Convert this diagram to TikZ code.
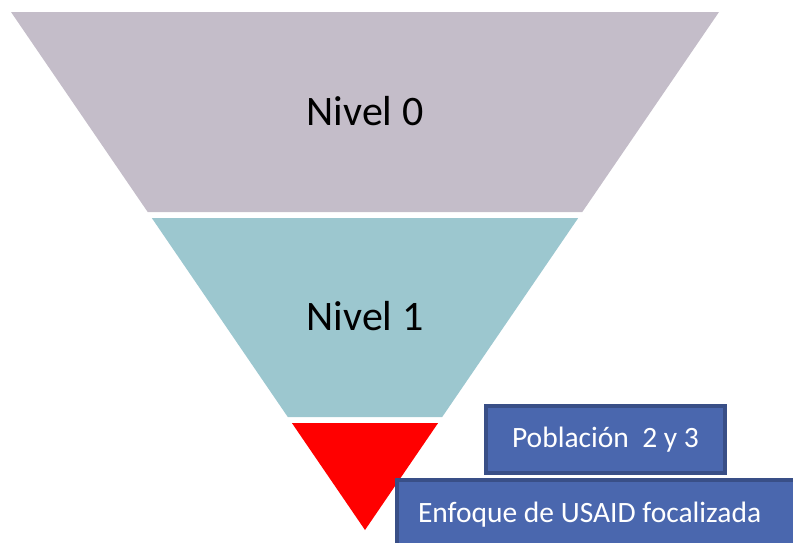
\documentclass[tikz,border=0pt]{standalone}
\usepackage{fontspec}
\setmainfont{Carlito}
\definecolor{nivelgris}{HTML}{C4BDC9}
\definecolor{nivelazul}{HTML}{9CC7CF}
\definecolor{cajaazul}{HTML}{4A67AE}
\definecolor{bordeazul}{HTML}{394F87}
\tikzset{
  bluebox/.style={fill=cajaazul, draw=bordeazul, line width=4pt, text=white,
    font=\fontsize{29.5}{35}\selectfont},
  nivel/.style={font=\fontsize{42}{50}\selectfont}
}
\begin{document}
\begin{tikzpicture}[x=1pt, y=-1pt]
            \useasboundingbox (0,0) rectangle (793,542);
            \clip (0,0) rectangle (793,542);

            \fill[nivelgris] (11,12) -- (719,12) -- (582.3,212) -- (147.7,212) -- cycle;
            \fill[nivelazul] (151.8,218) -- (578.2,218) -- (442.2,417) -- (287.8,417) -- cycle;
            \fill[red] (291.9,423) -- (438.1,423) -- (365,530) -- cycle;

            \node[nivel] (nivel0) at (365,111) {Nivel 0};
            \node[nivel] (nivel1) at (365,316) {Nivel 1};

            \node[bluebox, minimum width=239pt, minimum height=67pt] (poblacion) at (605.5,439.5) {Población~ 2 y 3};
            \node[bluebox, anchor=north west, text width=372pt, inner xsep=21pt, align=flush left,
              minimum height=70pt] (enfoque) at (395,478) {Enfoque de USAID focalizada};
        \end{tikzpicture}
\end{document}
